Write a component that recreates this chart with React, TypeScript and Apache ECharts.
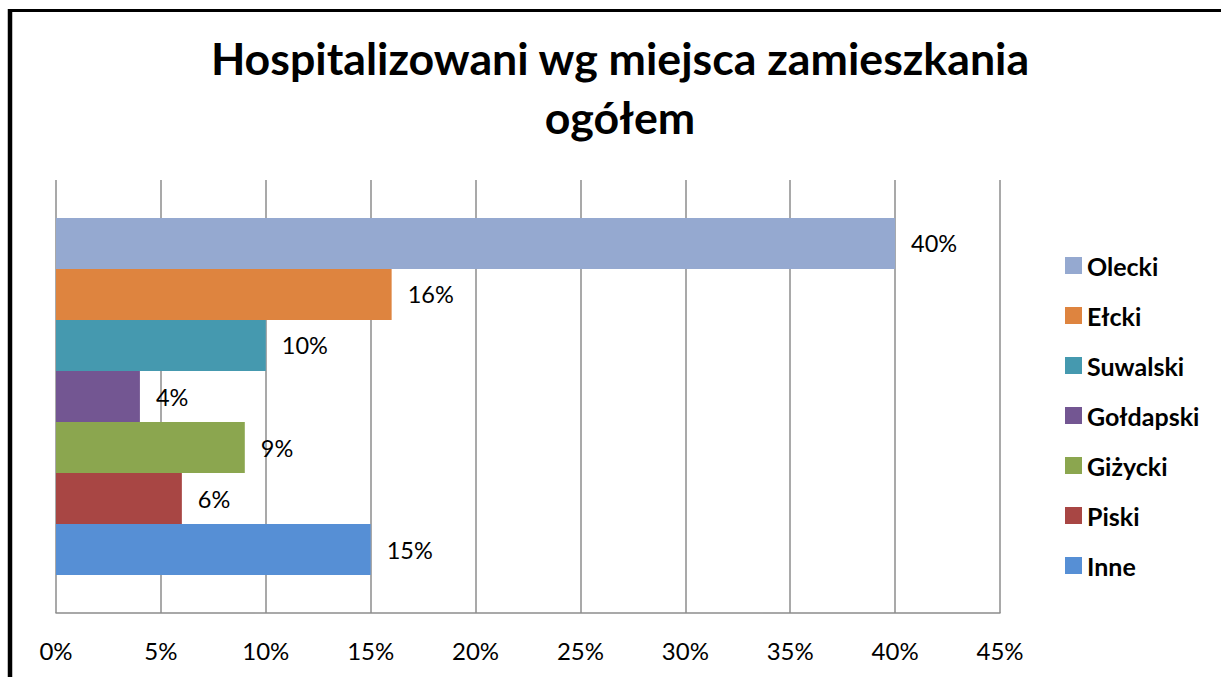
import React, { useEffect, useRef } from "react";
import * as echarts from "echarts";

const seriesNames = ["Olecki", "Ełcki", "Suwalski", "Gołdapski", "Giżycki", "Piski", "Inne"];
const seriesValues = [40, 16, 10, 4, 9, 6, 15];
const seriesColors = ["#95A9D0", "#DE843F", "#4599AF", "#735692", "#8BA64F", "#A84644", "#568FD5"];
const categories = [""];
const xTicks = { min: 0, max: 45, interval: 5 };
const titleText = "Hospitalizowani wg miejsca zamieszkania\nogółem";

export default function App() {
  const ref = useRef<HTMLDivElement>(null);
  useEffect(() => {
    if (!ref.current) return;
    const chart = echarts.init(ref.current, null, { renderer: "svg" });
    const font = "Lato, 'Open Sans', sans-serif";
    chart.setOption({
      animation: false,
      backgroundColor: "#ffffff",
      title: {
        text: titleText,
        left: 620,
        top: 28,
        padding: 0,
        textAlign: "center",
        textStyle: {
          fontFamily: font,
          fontWeight: "bold",
          fontSize: 44.7,
          lineHeight: 59,
          color: "#000000",
        },
      },
      legend: {
        orient: "vertical",
        left: 1060,
        top: 248,
        itemWidth: 17,
        itemHeight: 17,
        itemGap: 25,
        icon: "rect",
        data: seriesNames,
        textStyle: {
          fontFamily: font,
          fontWeight: "bold",
          fontSize: 25,
          color: "#000000",
          padding: [0, 0, 0, 0],
        },
      },
      grid: { left: 56, right: 221, top: 180, bottom: 64, containLabel: false },
      xAxis: {
        type: "value",
        min: xTicks.min,
        max: xTicks.max,
        interval: xTicks.interval,
        axisLine: { show: true, lineStyle: { color: "#8c8c8c", width: 1.5 } },
        axisTick: { show: false },
        splitLine: { show: true, lineStyle: { color: "#8c8c8c", width: 1.5 } },
        axisLabel: {
          formatter: "{value}%",
          fontFamily: font,
          fontSize: 24,
          color: "#000000",
          margin: 25,
        },
      },
      yAxis: {
        type: "category",
        data: categories,
        inverse: true,
        axisLine: { show: false },
        axisTick: { show: false },
        axisLabel: { show: false },
        splitLine: { show: false },
      },
      series: seriesNames.map((name, i) => ({
        name,
        type: "bar",
        data: [seriesValues[i]],
        barGap: "0%",
        barCategoryGap: "17.5%",
        itemStyle: { color: seriesColors[i] },
        label: {
          show: true,
          position: "right",
          distance: 16,
          formatter: "{c}%",
          fontFamily: font,
          fontSize: 23.5,
          color: "#000000",
        },
      })),
      graphic: [
        {
          type: "line",
          shape: { x1: 10, y1: 9, x2: 10, y2: 677 },
          style: { stroke: "#000000", lineWidth: 4.5 },
        },
        {
          type: "line",
          shape: { x1: 8, y1: 10.5, x2: 1221, y2: 10.5 },
          style: { stroke: "#000000", lineWidth: 3 },
        },
      ],
    });
    return () => chart.dispose();
  }, []);
  return (
    <div
      ref={ref}
      style={{ position: "fixed", left: 0, top: 0, width: 1221, height: 677 }}
    />
  );
}
